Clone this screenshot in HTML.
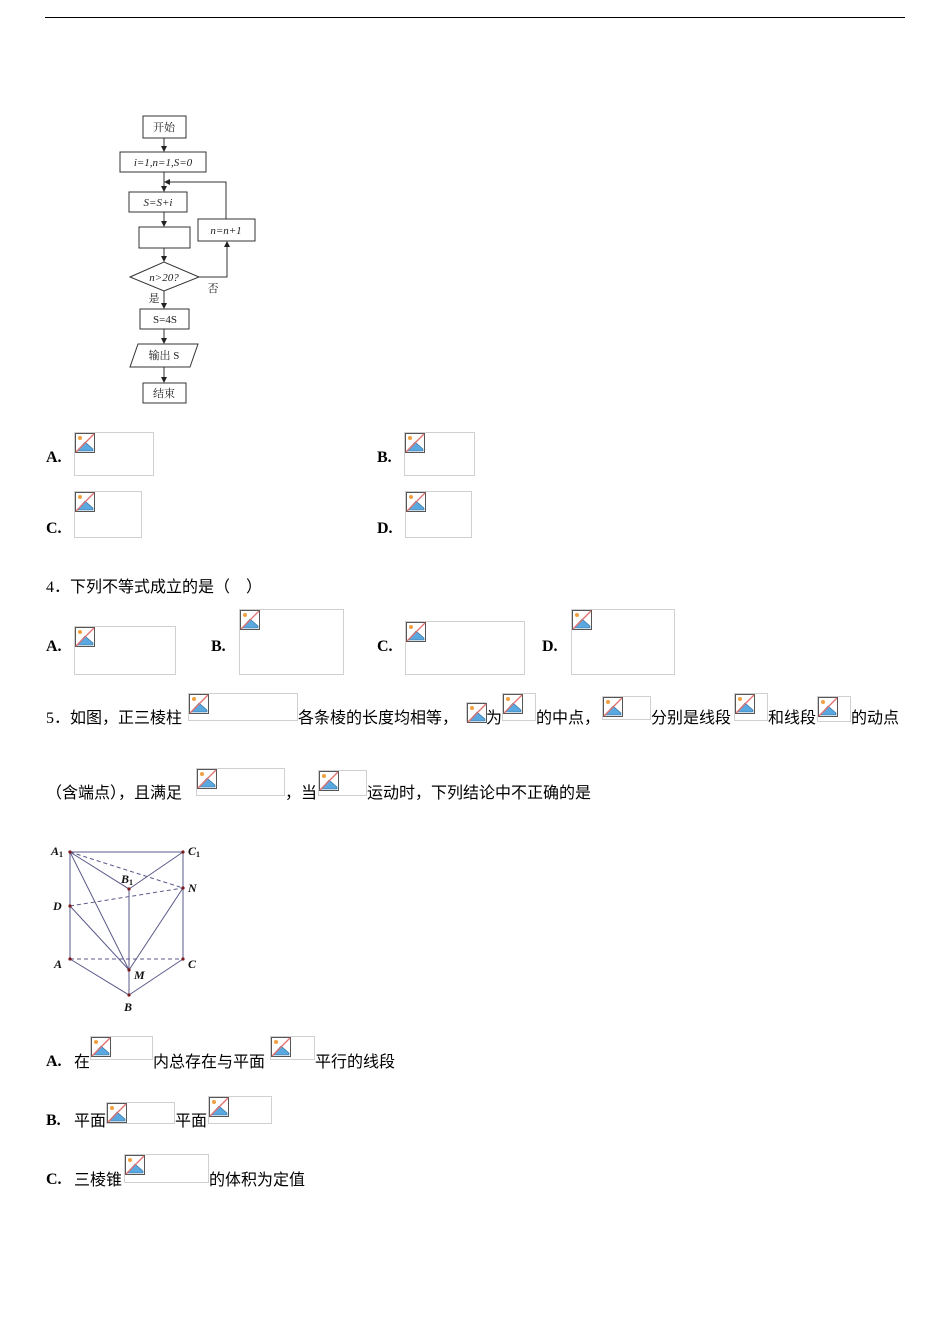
<!DOCTYPE html>
<html><head><meta charset="utf-8">
<style>
body{margin:0;background:#fff;}
#p{position:relative;width:950px;height:1344px;overflow:hidden;font-family:"Liberation Serif","Noto Sans CJK SC",sans-serif;color:#000;}
.t{position:absolute;font-size:16px;line-height:20px;white-space:nowrap;}
.l{font-weight:bold;font-family:"Liberation Serif",serif;}
.b{position:absolute;border:1px solid #d0d0d0;box-sizing:border-box;}
.b svg{position:absolute;left:0;top:0;}
</style></head><body><div id="p">
<div style="position:absolute;left:45px;top:17px;width:860px;height:1px;background:#000"></div>

<svg style="position:absolute;left:0;top:0" width="950" height="1344">
<defs><marker id="ar" markerWidth="6" markerHeight="6" refX="5" refY="3" orient="auto"><path d="M0,0L6,3L0,6z" fill="#222"/></marker></defs>
<g stroke="#333" fill="none" stroke-width="1">
<rect x="143" y="116" width="43" height="22"/>
<rect x="120" y="152" width="86" height="20"/>
<rect x="129" y="192" width="58" height="20"/>
<rect x="139" y="227" width="51" height="21"/>
<rect x="198" y="219" width="57" height="22"/>
<polygon points="130,277 164,262 199,277 164,291"/>
<rect x="140" y="309" width="49" height="20"/>
<polygon points="138,344 198,344 190,367 130,367"/>
<rect x="143" y="383" width="43" height="20"/>
<line x1="164" y1="138" x2="164" y2="151" marker-end="url(#ar)"/>
<line x1="164" y1="172" x2="164" y2="191" marker-end="url(#ar)"/>
<line x1="164" y1="212" x2="164" y2="226" marker-end="url(#ar)"/>
<line x1="164" y1="248" x2="164" y2="261" marker-end="url(#ar)"/>
<line x1="164" y1="291" x2="164" y2="308" marker-end="url(#ar)"/>
<line x1="164" y1="329" x2="164" y2="343" marker-end="url(#ar)"/>
<line x1="164" y1="367" x2="164" y2="382" marker-end="url(#ar)"/>
<polyline points="199,277 227,277 227,242" marker-end="url(#ar)"/>
<polyline points="226,219 226,182 165,182" marker-end="url(#ar)"/>
</g>
<g font-size="11" fill="#222" text-anchor="middle" font-family="Liberation Serif,Noto Serif CJK SC,serif">
<text x="164" y="131">开始</text>
<text x="163" y="166" font-style="italic">i=1,n=1,S=0</text>
<text x="158" y="206" font-style="italic">S=S+i</text>
<text x="226" y="234" font-style="italic">n=n+1</text>
<text x="164" y="281" font-style="italic">n&gt;20?</text>
<text x="213" y="292">否</text>
<text x="154" y="302">是</text>
<text x="165" y="323">S=4S</text>
<text x="164" y="359">输出 S</text>
<text x="164" y="397">结束</text>
</g>
<g stroke="#5a5a8a" stroke-width="1" fill="none">
<line x1="70" y1="852" x2="183" y2="852"/>
<line x1="70" y1="852" x2="70" y2="959"/>
<line x1="183" y1="852" x2="183" y2="959"/>
<line x1="129" y1="889" x2="129" y2="995"/>
<line x1="70" y1="852" x2="129" y2="889"/>
<line x1="183" y1="852" x2="129" y2="889"/>
<line x1="70" y1="959" x2="129" y2="995"/>
<line x1="183" y1="959" x2="129" y2="995"/>
<line x1="70" y1="852" x2="129" y2="970"/>
<line x1="70" y1="906" x2="129" y2="970"/>
<line x1="183" y1="888" x2="129" y2="970"/>
<g stroke-dasharray="4,3">
<line x1="70" y1="852" x2="183" y2="888"/>
<line x1="70" y1="906" x2="183" y2="888"/>
<line x1="70" y1="959" x2="183" y2="959"/>
</g>
</g>
<g fill="#7a1a1a"><circle cx="70" cy="852" r="1.6"/><circle cx="183" cy="852" r="1.6"/><circle cx="129" cy="889" r="1.6"/><circle cx="183" cy="888" r="1.6"/><circle cx="70" cy="906" r="1.6"/><circle cx="70" cy="959" r="1.6"/><circle cx="183" cy="959" r="1.6"/><circle cx="129" cy="970" r="1.6"/><circle cx="129" cy="995" r="1.6"/></g>
<g font-size="12" font-weight="bold" font-style="italic" fill="#111" font-family="Liberation Serif,serif">
<text x="51" y="855">A<tspan font-size="8" dy="2" font-style="normal">1</tspan></text>
<text x="188" y="855">C<tspan font-size="8" dy="2" font-style="normal">1</tspan></text>
<text x="121" y="883">B<tspan font-size="8" dy="2" font-style="normal">1</tspan></text>
<text x="188" y="892">N</text>
<text x="53" y="910">D</text>
<text x="54" y="968">A</text>
<text x="188" y="968">C</text>
<text x="134" y="979">M</text>
<text x="124" y="1011">B</text>
</g>
</svg>

<div class="t l" style="left:46px;top:448px">A.</div>
<div class="t l" style="left:377px;top:448px">B.</div>
<div class="t l" style="left:46px;top:519px">C.</div>
<div class="t l" style="left:377px;top:519px">D.</div>
<div class="t" style="left:46px;top:578px">4．下列不等式成立的是（&nbsp;&nbsp;&nbsp;&nbsp;）</div>
<div class="t l" style="left:46px;top:637px">A.</div>
<div class="t l" style="left:211px;top:637px">B.</div>
<div class="t l" style="left:377px;top:637px">C.</div>
<div class="t l" style="left:542px;top:637px">D.</div>
<div class="t" style="left:46px;top:709px">5．如图，正三棱柱</div>
<div class="t" style="left:298px;top:709px">各条棱的长度均相等，</div>
<div class="t" style="left:486px;top:709px">为</div>
<div class="t" style="left:536px;top:709px">的中点，</div>
<div class="t" style="left:651px;top:709px">分别是线段</div>
<div class="t" style="left:768px;top:709px">和线段</div>
<div class="t" style="left:851px;top:709px">的动点</div>
<div class="t" style="left:46px;top:784px">（含端点），且满足</div>
<div class="t" style="left:285px;top:784px">，当</div>
<div class="t" style="left:367px;top:784px">运动时，下列结论中不正确的是</div>
<div class="t l" style="left:46px;top:1052px">A.</div><div class="t" style="left:74px;top:1053px">在</div>
<div class="t" style="left:153px;top:1053px">内总存在与平面</div>
<div class="t" style="left:315px;top:1053px">平行的线段</div>
<div class="t l" style="left:46px;top:1111px">B.</div><div class="t" style="left:74px;top:1112px">平面</div>
<div class="t" style="left:175px;top:1112px">平面</div>
<div class="t l" style="left:46px;top:1170px">C.</div><div class="t" style="left:74px;top:1171px">三棱锥</div>
<div class="t" style="left:209px;top:1171px">的体积为定值</div>

<script>
var boxes=[[74,432,80,44],[404,432,71,44],[74,491,68,47],[405,491,67,47],
[74,626,102,49],[239,609,105,66],[405,621,120,54],[571,609,104,66],
[188,693,110,28],[466,702,20,20],[502,693,34,28],[602,696,49,24],[734,693,34,28],[817,696,34,26],
[196,768,89,28],[318,770,49,26],
[90,1036,63,24],[270,1036,45,24],[106,1102,69,22],[208,1096,64,28],[124,1154,85,29]];
var p=document.getElementById('p');
boxes.forEach(function(b){var d=document.createElement('div');d.className='b';
d.style.left=b[0]+'px';d.style.top=b[1]+'px';d.style.width=b[2]+'px';d.style.height=b[3]+'px';
d.innerHTML='<svg width="20" height="20"><rect x="0.5" y="0.5" width="19" height="19" fill="#fff" stroke="#555"/><circle cx="5" cy="5" r="2" fill="#f0a040"/><path d="M2,18 L10,9 L18,16 L18,18z" fill="#5aa8e0" stroke="#2a6a9a" stroke-width="0.6"/><line x1="1" y1="19" x2="19" y2="1" stroke="#e07070" stroke-width="1.3"/></svg>';
p.appendChild(d);});
</script>
</div></body></html>
